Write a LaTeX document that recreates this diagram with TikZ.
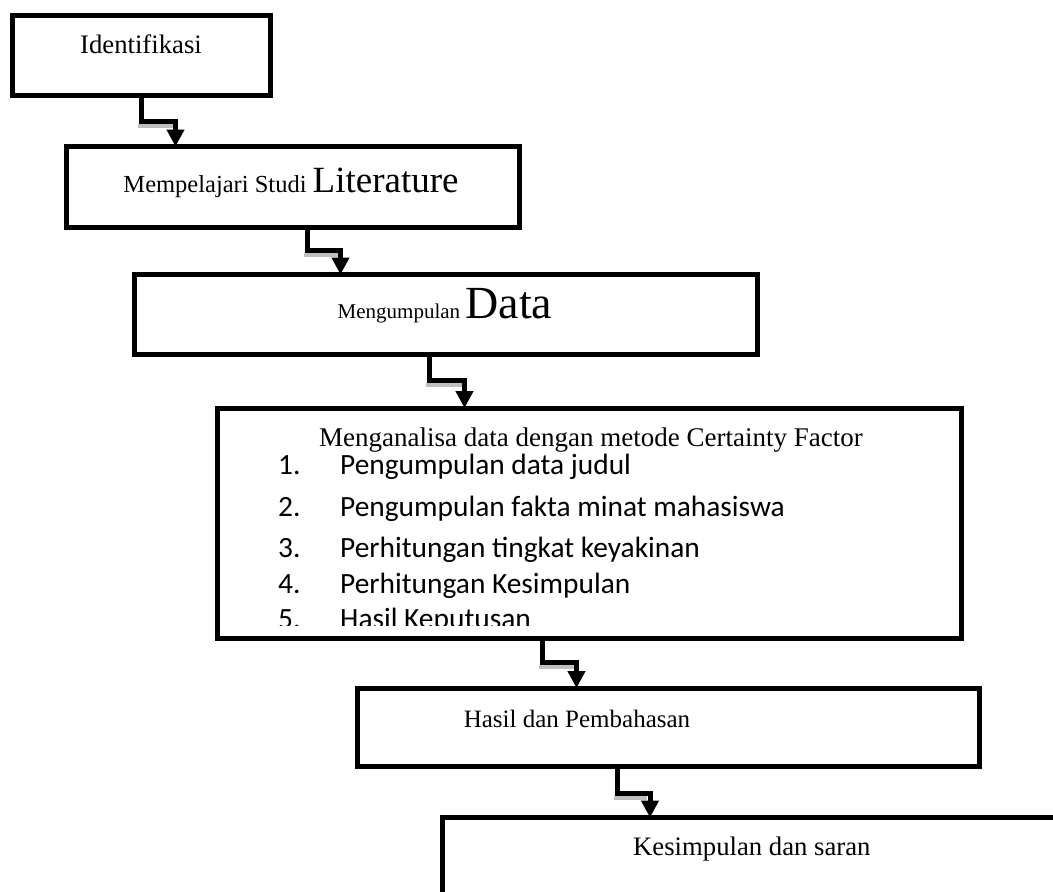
\documentclass[tikz,border=0pt]{standalone}
\usepackage{fontspec}
\setmainfont{Liberation Serif}
\newfontfamily\calibri{Carlito}
\usetikzlibrary{arrows.meta}
\tikzset{
  box/.style={draw, rectangle, line width=5pt, inner sep=0pt, outer sep=0pt},
  conn/.style={line width=5pt, line join=miter, -{Triangle[width=17pt,length=17pt]}},
  connshadow/.style={line width=4pt, gray!50},
  txt/.style={inner sep=0pt, anchor=base, font=\fontsize{26.7}{30}\selectfont},
  item/.style={inner sep=0pt, anchor=base west, font=\calibri\fontsize{29.4}{32}\selectfont}
}
\begin{document}
\begin{tikzpicture}[x=1pt,y=-1pt]
\clip (0,0) rectangle (1053,892);
\fill[white] (0,0) rectangle (1053,892);

% boxes
\node[box, minimum width=258pt, minimum height=79.5pt] (b1) at (141,55.25) {};
\node[box, minimum width=452.5pt, minimum height=81pt] (b2) at (292.75,187) {};
\node[box, minimum width=623pt, minimum height=80pt] (b3) at (445.5,314.5) {};
\node[box, minimum width=744pt, minimum height=230.5pt] (b4) at (589,523.25) {};
\node[box, minimum width=622pt, minimum height=78.5pt] (b5) at (668,727.25) {};
\node[box, minimum width=700pt, minimum height=200pt] (b6) at (792,917.5) {};

% texts
\node[txt] (t1) at (141,53) {Identifikasi};
\node[txt] (t2) at (291,192) {\fontsize{24.5}{28}\selectfont Mempelajari Studi \fontsize{37}{40}\selectfont Literature};
\node[txt] (t3) at (445,318) {\fontsize{21}{28}\selectfont Mengumpulan \fontsize{46}{48}\selectfont Data};
\node[txt] (t4) at (591,446) {\fontsize{27}{30}\selectfont Menganalisa data dengan metode Certainty Factor};
\begin{scope}
\clip (222,412) rectangle (956,625);
\node[item] (n1) at (278,474) {1.};
\node[item] (i1) at (340,474) {Pengumpulan data judul};
\node[item] (n2) at (278,516) {2.};
\node[item] (i2) at (340,516) {Pengumpulan fakta minat mahasiswa};
\node[item] (n3) at (278,557) {3.};
\node[item] (i3) at (340,557) {Perhitungan tingkat keyakinan};
\node[item] (n4) at (278,593) {4.};
\node[item] (i4) at (340,593) {Perhitungan Kesimpulan};
\node[item] (n5) at (278,628) {5.};
\node[item] (i5) at (340,628) {Hasil Keputusan};
\end{scope}
\node[txt] (t5) at (577,727) {\fontsize{25}{30}\selectfont Hasil dan Pembahasan};
\node[txt, anchor=base west] (t6) at (633,855) {Kesimpulan dan saran};

% bend points of the connectors
\coordinate (k1a) at (141.5,121.5); \coordinate (k1b) at (175.5,121.5);
\coordinate (k2a) at (307.5,250.5); \coordinate (k2b) at (340.5,250.5);
\coordinate (k3a) at (429.5,380.5); \coordinate (k3b) at (464.5,380.5);
\coordinate (k4a) at (542.5,662.5); \coordinate (k4b) at (576.5,662.5);
\coordinate (k5a) at (617.5,793);   \coordinate (k5b) at (650,793);

% shadows
\foreach \a/\b in {k1a/k1b,k2a/k2b,k3a/k3b,k4a/k4b,k5a/k5b}
  \draw[connshadow] ([shift={(-4,4.5)}]\a) -- ([shift={(-3,4.5)}]\b);

% connectors
\draw[conn] (b1.south -| k1a) -- (k1a) -- (k1b) -- (b2.north -| k1b);
\draw[conn] (b2.south -| k2a) -- (k2a) -- (k2b) -- (b3.north -| k2b);
\draw[conn] (b3.south -| k3a) -- (k3a) -- (k3b) -- (b4.north -| k3b);
\draw[conn] (b4.south -| k4a) -- (k4a) -- (k4b) -- (b5.north -| k4b);
\draw[conn] (b5.south -| k5a) -- (k5a) -- (k5b) -- (b6.north -| k5b);
\end{tikzpicture}
\end{document}
